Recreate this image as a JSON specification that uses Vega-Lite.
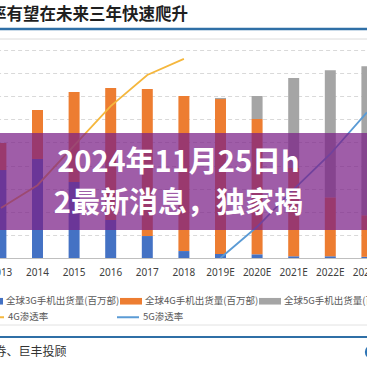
{
  "$schema": "https://vega.github.io/schema/vega-lite/v6.json",
  "width": 367,
  "height": 208,
  "autosize": {"type": "none"},
  "padding": {"left": 0, "right": 0, "top": 50, "bottom": 109},
  "background": "white",
  "config": {"view": {"stroke": null}, "font": "Noto Sans CJK SC"},
  "datasets": {
    "bars": [
      {"year": "2013", "series": "全球3G手机出货量(百万部)", "k": 1, "value": 761},
      {"year": "2013", "series": "全球4G手机出货量(百万部)", "k": 2, "value": 234},
      {"year": "2014", "series": "全球3G手机出货量(百万部)", "k": 1, "value": 857},
      {"year": "2014", "series": "全球4G手机出货量(百万部)", "k": 2, "value": 424},
      {"year": "2015", "series": "全球3G手机出货量(百万部)", "k": 1, "value": 658},
      {"year": "2015", "series": "全球4G手机出货量(百万部)", "k": 2, "value": 779},
      {"year": "2016", "series": "全球3G手机出货量(百万部)", "k": 1, "value": 329},
      {"year": "2016", "series": "全球4G手机出货量(百万部)", "k": 2, "value": 1142},
      {"year": "2017", "series": "全球3G手机出货量(百万部)", "k": 1, "value": 190},
      {"year": "2017", "series": "全球4G手机出货量(百万部)", "k": 2, "value": 1272},
      {"year": "2018", "series": "全球3G手机出货量(百万部)", "k": 1, "value": 60},
      {"year": "2018", "series": "全球4G手机出货量(百万部)", "k": 2, "value": 1342},
      {"year": "2019E", "series": "全球3G手机出货量(百万部)", "k": 1, "value": 35},
      {"year": "2019E", "series": "全球4G手机出货量(百万部)", "k": 2, "value": 1340},
      {"year": "2019E", "series": "全球5G手机出货量(百万部)", "k": 3, "value": 10},
      {"year": "2020E", "series": "全球3G手机出货量(百万部)", "k": 1, "value": 32},
      {"year": "2020E", "series": "全球4G手机出货量(百万部)", "k": 2, "value": 1171},
      {"year": "2020E", "series": "全球5G手机出货量(百万部)", "k": 3, "value": 199},
      {"year": "2021E", "series": "全球3G手机出货量(百万部)", "k": 1, "value": 15},
      {"year": "2021E", "series": "全球4G手机出货量(百万部)", "k": 2, "value": 764},
      {"year": "2021E", "series": "全球5G手机出货量(百万部)", "k": 3, "value": 779},
      {"year": "2022E", "series": "全球3G手机出货量(百万部)", "k": 1, "value": 15},
      {"year": "2022E", "series": "全球4G手机出货量(百万部)", "k": 2, "value": 510},
      {"year": "2022E", "series": "全球5G手机出货量(百万部)", "k": 3, "value": 1100},
      {"year": "2023E", "series": "全球3G手机出货量(百万部)", "k": 1, "value": 10},
      {"year": "2023E", "series": "全球4G手机出货量(百万部)", "k": 2, "value": 360},
      {"year": "2023E", "series": "全球5G手机出货量(百万部)", "k": 3, "value": 1290}
    ],
    "rates": [
      {"year": "2013", "series": "4G渗透率", "rate": 0.24},
      {"year": "2014", "series": "4G渗透率", "rate": 0.35},
      {"year": "2015", "series": "4G渗透率", "rate": 0.54},
      {"year": "2016", "series": "4G渗透率", "rate": 0.73},
      {"year": "2017", "series": "4G渗透率", "rate": 0.88},
      {"year": "2018", "series": "4G渗透率", "rate": 0.957},
      {"year": "2019E", "series": "5G渗透率", "rate": 0.0},
      {"year": "2020E", "series": "5G渗透率", "rate": 0.15},
      {"year": "2021E", "series": "5G渗透率", "rate": 0.33},
      {"year": "2022E", "series": "5G渗透率", "rate": 0.5},
      {"year": "2023E", "series": "5G渗透率", "rate": 0.7}
    ]
  },
  "layer": [
    {
      "data": {"name": "bars"},
      "mark": {"type": "bar"},
      "encoding": {
        "x": {
          "field": "year", "type": "ordinal", "title": null,
          "scale": {
            "domain": ["2013","2014","2015","2016","2017","2018","2019E","2020E","2021E","2022E","2023E"],
            "range": [-17.4, 385.2], "paddingInner": 0.7, "paddingOuter": 0.35
          },
          "axis": {
            "labelAngle": 0, "ticks": false, "domainColor": "#bfbfbf", "domainWidth": 1,
            "labelFontSize": 10, "labelColor": "#404040", "labelFont": "Noto Sans",
            "labelPadding": 9, "grid": false, "title": null
          }
        },
        "y": {
          "field": "value", "type": "quantitative", "stack": "zero", "title": null,
          "scale": {"domain": [0, 1800], "nice": false},
          "axis": {
            "values": [200, 400, 600, 800, 1000, 1200, 1400, 1600, 1800],
            "grid": true, "gridDash": [4, 3], "gridColor": "#d9d9d9", "gridWidth": 1,
            "labels": false, "ticks": false, "domain": false, "title": null
          }
        },
        "color": {
          "field": "series", "type": "nominal",
          "scale": {
            "domain": ["全球3G手机出货量(百万部)", "全球4G手机出货量(百万部)", "全球5G手机出货量(百万部)"],
            "range": ["#4472C4", "#ED7D31", "#A5A5A5"]
          },
          "legend": {
            "title": null, "orient": "none", "legendX": -19, "legendY": 240, "padding": 0,
            "direction": "horizontal", "columns": 3, "columnPadding": 0,
            "symbolType": "M-1,-0.3H1V0.3H-1Z", "symbolSize": 484, "symbolStrokeWidth": 0,
            "labelFontSize": 9.5, "labelColor": "#595959",
            "labelFont": "Noto Sans CJK SC", "labelOffset": 3, "labelLimit": 300
          }
        },
        "order": {"field": "k", "type": "quantitative"}
      }
    },
    {
      "data": {"name": "rates"},
      "mark": {"type": "line", "strokeWidth": 1.8},
      "encoding": {
        "x": {"field": "year", "type": "ordinal", "title": null},
        "y": {"field": "rate", "type": "quantitative", "scale": {"domain": [0, 1], "nice": false}, "axis": null},
        "stroke": {
          "field": "series", "type": "nominal",
          "scale": {"domain": ["4G渗透率", "5G渗透率"], "range": ["#F5B73D", "#5B9BD5"]},
          "legend": {
            "title": null, "orient": "none", "legendX": -19, "legendY": 255, "padding": 0,
            "direction": "horizontal", "columns": 3, "columnPadding": 64,
            "symbolType": "stroke", "symbolSize": 484, "symbolStrokeWidth": 2,
            "labelFontSize": 9.5, "labelColor": "#595959",
            "labelFont": "Noto Sans CJK SC", "labelOffset": 3, "labelLimit": 300
          }
        }
      }
    },
    {
      "data": {"values": [{}]},
      "mark": {"type": "rule", "color": "#dcdcdc", "strokeWidth": 1},
      "encoding": {"y": {"datum": 1895, "type": "quantitative", "scale": {"domain": [0, 1800], "nice": false}, "axis": null}}
    },
    {
      "data": {"values": [{}]},
      "mark": {"type": "rule", "color": "#2F6FA6", "strokeWidth": 2.5},
      "encoding": {"y": {"datum": 1982, "type": "quantitative", "scale": {"domain": [0, 1800], "nice": false}, "axis": null}}
    },
    {
      "data": {"values": [{}]},
      "mark": {"type": "text", "align": "left", "baseline": "middle", "fontSize": 16.5, "fontWeight": "bold", "color": "#1f1f1f", "dx": -10.8},
      "encoding": {
        "x": {"datum": "2013", "type": "ordinal"},
        "y": {"datum": 2103, "type": "quantitative", "scale": {"domain": [0, 1800], "nice": false}, "axis": null},
        "text": {"value": "率有望在未来三年快速爬升"}
      }
    },
    {
      "data": {"values": [{}]},
      "mark": {"type": "rule", "color": "#7A1F86", "opacity": 0.72, "strokeWidth": 97, "strokeCap": "butt"},
      "encoding": {"y": {"datum": 662, "type": "quantitative", "scale": {"domain": [0, 1800], "nice": false}, "axis": null}}
    },
    {
      "data": {"values": [{}]},
      "mark": {"type": "text", "align": "center", "baseline": "middle", "fontSize": 29, "fontWeight": "bold", "color": "white", "dx": -5.5},
      "encoding": {
        "x": {"datum": "2018", "type": "ordinal"},
        "y": {"datum": 822, "type": "quantitative", "scale": {"domain": [0, 1800], "nice": false}, "axis": null},
        "text": {"value": "2024年11月25日h"}
      }
    },
    {
      "data": {"values": [{}]},
      "mark": {"type": "text", "align": "center", "baseline": "middle", "fontSize": 29, "fontWeight": "bold", "color": "white", "dx": -5.5},
      "encoding": {
        "x": {"datum": "2018", "type": "ordinal"},
        "y": {"datum": 467, "type": "quantitative", "scale": {"domain": [0, 1800], "nice": false}, "axis": null},
        "text": {"value": "2最新消息，独家揭"}
      }
    },
    {
      "data": {"values": [{}]},
      "mark": {"type": "rule", "color": "#e3e3e3", "strokeWidth": 1},
      "encoding": {"y": {"datum": -580, "type": "quantitative", "scale": {"domain": [0, 1800], "nice": false}, "axis": null}}
    },
    {
      "data": {"values": [{}]},
      "mark": {"type": "rule", "color": "#2F6FA6", "strokeWidth": 2},
      "encoding": {"y": {"datum": -684, "type": "quantitative", "scale": {"domain": [0, 1800], "nice": false}, "axis": null}}
    },
    {
      "data": {"values": [{}]},
      "mark": {"type": "text", "align": "left", "baseline": "middle", "fontSize": 12, "color": "#333333", "dx": -6.4},
      "encoding": {
        "x": {"datum": "2013", "type": "ordinal"},
        "y": {"datum": -813, "type": "quantitative", "scale": {"domain": [0, 1800], "nice": false}, "axis": null},
        "text": {"value": "券、巨丰投顾"}
      }
    },
    {
      "data": {"values": [{}]},
      "mark": {"type": "point", "filled": true, "color": "#2F75B5", "opacity": 1, "size": 200, "xOffset": 5},
      "encoding": {
        "x": {"datum": "2023E", "type": "ordinal"},
        "y": {"datum": -813, "type": "quantitative", "scale": {"domain": [0, 1800], "nice": false}, "axis": null}
      }
    }
  ],
  "resolve": {"scale": {"y": "independent"}}
}
